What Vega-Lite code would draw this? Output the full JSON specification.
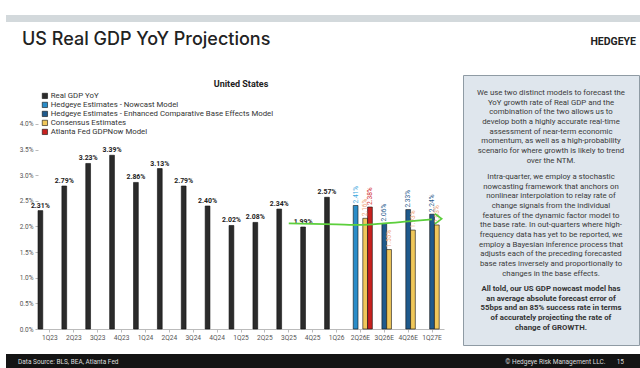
{
  "$schema": "https://vega.github.io/schema/vega-lite/v6.json",
  "padding": {"left": 6, "top": 12, "right": 0, "bottom": 0},
  "background": "white",
  "config": {"view": {"stroke": null}, "font": "Roboto"},
  "spacing": 8,
  "vconcat": [
    {
      "spacing": 25,
      "vconcat": [
        {
          "spacing": 0,
          "hconcat": [
            {
              "width": 559, "height": 7,
              "view": {"fill": "#d3d9dc", "stroke": null},
              "data": {"values": [{}]},
              "mark": {"type": "text", "text": ""},
              "title": {"text": "US Real GDP YoY Projections", "orient": "bottom", "anchor": "start", "frame": "group", "offset": 7, "dx": 16, "font": "Inter", "fontSize": 18, "fontWeight": 500, "color": "#222222"}
            },
            {
              "width": 75, "height": 7,
              "view": {"fill": "#d3d9dc", "stroke": null},
              "data": {"values": [{}]},
              "mark": {"type": "text", "text": ""},
              "title": {"text": "HEDGEYE", "orient": "bottom", "anchor": "end", "frame": "group", "offset": 13, "dx": -4, "font": "Roboto", "fontSize": 10.5, "fontWeight": "bold", "color": "#222222"}
            }
          ]
        },
        {
          "spacing": 12,
          "hconcat": [
            {
              "width": 1, "height": 10,
              "data": {"values": [{}]},
              "mark": {"type": "text", "text": ""}
            },
            {
              "spacing": 16,
              "hconcat": [
                {
                  "width": 406, "height": 254,
                  "title": {"text": "United States", "orient": "top", "frame": "group", "fontSize": 9, "fontWeight": "bold", "color": "#222222", "offset": -14, "anchor": "middle", "font": "Roboto"},
                  "data": {"values": [
                    {"q": "1Q23", "s": "Real GDP YoY", "v": 2.31},
                    {"q": "2Q23", "s": "Real GDP YoY", "v": 2.79},
                    {"q": "3Q23", "s": "Real GDP YoY", "v": 3.23},
                    {"q": "4Q23", "s": "Real GDP YoY", "v": 3.39},
                    {"q": "1Q24", "s": "Real GDP YoY", "v": 2.86},
                    {"q": "2Q24", "s": "Real GDP YoY", "v": 3.13},
                    {"q": "3Q24", "s": "Real GDP YoY", "v": 2.79},
                    {"q": "4Q24", "s": "Real GDP YoY", "v": 2.40},
                    {"q": "1Q25", "s": "Real GDP YoY", "v": 2.02},
                    {"q": "2Q25", "s": "Real GDP YoY", "v": 2.08},
                    {"q": "3Q25", "s": "Real GDP YoY", "v": 2.34},
                    {"q": "4Q25", "s": "Real GDP YoY", "v": 1.99},
                    {"q": "1Q26", "s": "Real GDP YoY", "v": 2.57},
                    {"q": "2Q26E", "s": "Hedgeye Estimates - Nowcast Model", "v": 2.41},
                    {"q": "2Q26E", "s": "Consensus Estimates", "v": 2.16},
                    {"q": "2Q26E", "s": "Atlanta Fed GDPNow Model", "v": 2.38},
                    {"q": "3Q26E", "s": "Hedgeye Estimates - Enhanced Comparative Base Effects Model", "v": 2.06},
                    {"q": "3Q26E", "s": "Consensus Estimates", "v": 1.55},
                    {"q": "4Q26E", "s": "Hedgeye Estimates - Enhanced Comparative Base Effects Model", "v": 2.33},
                    {"q": "4Q26E", "s": "Consensus Estimates", "v": 1.93},
                    {"q": "1Q27E", "s": "Hedgeye Estimates - Enhanced Comparative Base Effects Model", "v": 2.24},
                    {"q": "1Q27E", "s": "Consensus Estimates", "v": 2.03}
                  ]},
                  "transform": [{"calculate": "format(datum.v, '.2f') + '%'", "as": "lbl"}],
                  "encoding": {
                    "x": {"field": "q", "type": "nominal",
                      "scale": {"domain": ["1Q23","2Q23","3Q23","4Q23","1Q24","2Q24","3Q24","4Q24","1Q25","2Q25","3Q25","4Q25","1Q26","2Q26E","3Q26E","4Q26E","1Q27E"], "paddingInner": 0, "paddingOuter": 0},
                      "axis": {"title": null, "labelAngle": 0, "labelFontSize": 6.6, "labelColor": "#555555", "tickColor": "#bbbbbb", "tickSize": 3, "domainColor": "#bbbbbb", "labelPadding": 2}},
                    "y": {"field": "v", "type": "quantitative",
                      "scale": {"domain": [0, 4.956], "nice": false},
                      "axis": {"values": [0, 0.5, 1, 1.5, 2, 2.5, 3, 3.5, 4], "labelExpr": "format(datum.value, '.1f') + '%'", "title": null, "domain": false, "labelFontSize": 6.5, "labelColor": "#555555", "tickColor": "#bbbbbb", "tickSize": 3, "grid": false, "labelPadding": 2}}
                  },
                  "layer": [
                    {
                      "data": {"values": [{}]},
                      "mark": {"type": "rule", "color": "#c8c8c8", "strokeWidth": 1},
                      "encoding": {"x": {"datum": "1Q23", "bandPosition": 0}, "y": {"datum": 0}, "y2": {"datum": 4}}
                    },
                    {
                      "mark": {"type": "bar", "stroke": "#111111", "strokeWidth": 0.6},
                      "encoding": {
                        "xOffset": {"field": "s", "type": "nominal", "scale": {"domain": ["Real GDP YoY", "Hedgeye Estimates - Nowcast Model", "Hedgeye Estimates - Enhanced Comparative Base Effects Model", "Consensus Estimates", "Atlanta Fed GDPNow Model"], "paddingInner": 0, "paddingOuter": 0}},
                        "color": {"field": "s", "type": "nominal",
                          "scale": {"domain": ["Real GDP YoY", "Hedgeye Estimates - Nowcast Model", "Hedgeye Estimates - Enhanced Comparative Base Effects Model", "Consensus Estimates", "Atlanta Fed GDPNow Model"], "range": ["#2b2b2b", "#2a8cc8", "#1f5a8c", "#f0c75a", "#c8201e"]},
                          "legend": {"orient": "none", "legendX": 3, "legendY": 17, "title": null, "direction": "vertical", "symbolType": "square", "symbolSize": 28, "symbolStrokeColor": "#111111", "symbolStrokeWidth": 0.6, "labelFontSize": 7.8, "labelColor": "#333333", "labelLimit": 500, "rowPadding": 0, "labelOffset": 2, "padding": 0}}
                      }
                    },
                    {
                      "transform": [{"filter": "datum.s == 'Real GDP YoY'"}],
                      "mark": {"type": "text", "dy": -2, "baseline": "bottom", "fontSize": 6.9, "fontWeight": "bold", "color": "#222222"},
                      "encoding": {
                        "xOffset": {"field": "s", "type": "nominal"},
                        "text": {"field": "lbl", "type": "nominal"}
                      }
                    },
                    {
                      "transform": [{"filter": "datum.s != 'Real GDP YoY'"}],
                      "mark": {"type": "text", "angle": 270, "align": "left", "baseline": "middle", "dx": 2, "fontSize": 6.6},
                      "encoding": {
                        "xOffset": {"field": "s", "type": "nominal"},
                        "text": {"field": "lbl", "type": "nominal"},
                        "color": {"field": "s", "type": "nominal", "legend": null,
                          "scale": {"domain": ["Hedgeye Estimates - Nowcast Model", "Hedgeye Estimates - Enhanced Comparative Base Effects Model", "Consensus Estimates", "Atlanta Fed GDPNow Model"], "range": ["#3aa6dc", "#1f5a8c", "#eea57a", "#d0282a"]}}
                      }
                    },
                    {
                      "data": {"values": [
                        {"q": "3Q25", "g": 2.06},
                        {"q": "4Q25", "g": 2.05},
                        {"q": "1Q26", "g": 2.04},
                        {"q": "2Q26E", "g": 2.03},
                        {"q": "3Q26E", "g": 2.06},
                        {"q": "4Q26E", "g": 2.10},
                        {"q": "1Q27E", "g": 2.14}
                      ]},
                      "mark": {"type": "line", "color": "#5ccf3c", "strokeWidth": 1.7, "interpolate": "monotone"},
                      "encoding": {"y": {"field": "g", "type": "quantitative"}}
                    },
                    {
                      "data": {"values": [{"q": "1Q27E", "g": 2.15}]},
                      "mark": {"type": "point", "shape": "M-1,-0.75L0,0L-1,0.75", "filled": false, "stroke": "#5ccf3c", "strokeWidth": 1.7, "size": 180, "opacity": 1},
                      "encoding": {"y": {"field": "g", "type": "quantitative"}, "xOffset": {"datum": "Atlanta Fed GDPNow Model"}}
                    },
                    {
                      "data": {"values": [{"note": "Data Source: BLS, BEA, Atlanta Fed, FactSet"}]},
                      "mark": {"type": "text", "align": "left", "baseline": "middle", "dx": -28, "dy": 15, "fontSize": 6, "color": "#aaaaaa"},
                      "encoding": {"x": {"datum": "1Q23"}, "y": {"datum": 0}, "text": {"field": "note", "type": "nominal"}}
                    },
                    {
                      "data": {"values": [{"note": "© Hedgeye Risk Management"}]},
                      "mark": {"type": "text", "align": "right", "baseline": "middle", "dx": 12, "dy": 15, "fontSize": 6, "color": "#aaaaaa"},
                      "encoding": {"x": {"datum": "1Q27E"}, "y": {"datum": 0}, "text": {"field": "note", "type": "nominal"}}
                    }
                  ],
                  "resolve": {"scale": {"color": "independent"}}
                },
                {
                  "width": 176, "height": 270,
                  "view": {"fill": "#dfe6ed", "stroke": "#8f9ba4", "strokeWidth": 1},
                  "data": {"values": [
                    {"p": "top", "t": "We use two distinct models to forecast the\nYoY growth rate of Real GDP and the\ncombination of the two allows us to\ndevelop both a highly accurate real-time\nassessment of near-term economic\nmomentum, as well as a high-probability\nscenario for where growth is likely to trend\nover the NTM."},
                    {"p": "middle", "t": "Intra-quarter, we employ a stochastic\nnowcasting framework that anchors on\nnonlinear interpolation to relay rate of\nchange signals from the individual\nfeatures of the dynamic factor model to\nthe base rate. In out-quarters where high-\nfrequency data has yet to be reported, we\nemploy a Bayesian inference process that\nadjusts each of the preceding forecasted\nbase rates inversely and proportionally to\nchanges in the base effects."},
                    {"p": "bottom", "t": "All told, our US GDP nowcast model has\nan average absolute forecast error of\n55bps and an 85% success rate in terms\nof accurately projecting the rate of\nchange of GROWTH."}
                  ]},
                  "encoding": {
                    "y": {"field": "p", "type": "nominal", "scale": {"type": "point", "domain": ["top", "middle", "bottom"], "padding": 0}, "axis": null},
                    "text": {"field": "t", "type": "nominal"}
                  },
                  "layer": [
                    {"transform": [{"filter": "datum.p == 'top'"}], "mark": {"type": "text", "baseline": "top", "dy": 14, "lineBreak": "\n", "lineHeight": 9.65, "fontSize": 7.8, "color": "#3a3a3a", "align": "center"}},
                    {"transform": [{"filter": "datum.p == 'middle'"}], "mark": {"type": "text", "baseline": "top", "dy": -37, "lineBreak": "\n", "lineHeight": 9.65, "fontSize": 7.8, "color": "#3a3a3a", "align": "center"}},
                    {"transform": [{"filter": "datum.p == 'bottom'"}], "mark": {"type": "text", "baseline": "top", "dy": -60, "lineBreak": "\n", "lineHeight": 9.65, "fontSize": 7.8, "fontWeight": "bold", "color": "#333333", "align": "center"}}
                  ]
                }
              ]
            }
          ]
        }
      ]
    },
    {
      "spacing": 0,
      "hconcat": [
        {
          "width": 394, "height": 16,
          "view": {"fill": "#141414", "stroke": null},
          "data": {"values": [{}]},
          "mark": {"type": "text", "text": ""},
          "title": {"text": "Data Source: BLS, BEA, Atlanta Fed", "orient": "top", "anchor": "start", "frame": "group", "offset": -11, "dx": 12, "fontSize": 6.5, "fontWeight": "normal", "color": "#dddddd", "font": "Roboto"}
        },
        {
          "width": 240, "height": 16,
          "view": {"fill": "#141414", "stroke": null},
          "data": {"values": [{}]},
          "mark": {"type": "text", "text": ""},
          "title": {"text": "© Hedgeye Risk Management LLC.\u00a0\u00a0\u00a0\u00a0\u00a0\u00a0\u00a015", "orient": "top", "anchor": "end", "frame": "group", "offset": -11, "dx": -16, "fontSize": 6.5, "fontWeight": "normal", "color": "#dddddd", "font": "Roboto"}
        }
      ]
    }
  ]
}
